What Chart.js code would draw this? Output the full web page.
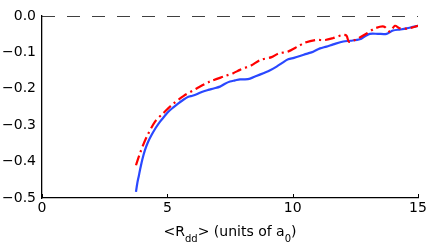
<!DOCTYPE html>
<html>
<head>
<meta charset="utf-8">
<script src="https://cdn.jsdelivr.net/npm/chart.js@4/dist/chart.umd.min.js"></script>
<style>
  body{margin:0;background:#fff;}
  #wrap{position:relative;width:436px;height:245px;overflow:hidden;}
  #xtitle{position:absolute;left:230px;top:223px;transform:translateX(-50%);
    font:14px "DejaVu Sans",sans-serif;color:#000;white-space:nowrap;}
  #xtitle sub{font-size:10px;vertical-align:-6px;line-height:0;}
</style>
</head>
<body>
<div id="wrap">
  <canvas id="mychart" width="436" height="245"></canvas>
  <div id="xtitle">&lt;R<sub>dd</sub>&gt; (units of a<sub>0</sub>)</div>
</div>
<script>
// blue solid curve
var blueX=[3.75,3.8,3.86,3.91,4.0,4.11,4.23,4.37,4.54,4.71,4.88,5.04,5.24,5.44,5.64,5.84,6.0,6.17,6.4,6.63,6.85,7.1,7.3,7.5,7.7,7.9,8.1,8.3,8.55,8.83,9.1,9.36,9.6,9.82,10.05,10.29,10.55,10.82,11.09,11.35,11.62,12.02,12.3,12.68,12.9,13.08,13.4,13.75,14.0,14.3,14.55,14.8,15.0]
var blueY=[-0.483,-0.46,-0.44,-0.423,-0.395,-0.368,-0.346,-0.327,-0.307,-0.290,-0.276,-0.263,-0.251,-0.240,-0.230,-0.222,-0.219,-0.215,-0.208,-0.203,-0.199,-0.194,-0.186,-0.180,-0.177,-0.174,-0.174,-0.172,-0.165,-0.157,-0.149,-0.139,-0.128,-0.119,-0.115,-0.110,-0.104,-0.098,-0.089,-0.084,-0.078,-0.070,-0.068,-0.064,-0.055,-0.049,-0.049,-0.049,-0.040,-0.037,-0.034,-0.030,-0.027]
// red dash-dot curve
var redX=[3.75,3.91,4.15,4.51,4.84,5.17,5.64,6.17,6.7,7.3,7.63,7.9,8.36,8.7,9.16,9.43,9.8,10.2,10.49,10.9,11.3,11.6,12.0,12.15,12.25,12.62,12.95,13.28,13.64,13.88,14.08,14.28,14.61,15.0]
var redY=[-0.410,-0.377,-0.336,-0.290,-0.267,-0.245,-0.220,-0.199,-0.180,-0.165,-0.157,-0.148,-0.135,-0.121,-0.113,-0.103,-0.098,-0.084,-0.073,-0.066,-0.066,-0.061,-0.052,-0.054,-0.071,-0.061,-0.048,-0.034,-0.029,-0.043,-0.027,-0.034,-0.034,-0.027]
// zero reference line
var zeroX=[0,15]
var zeroY=[0,0]
var xTicks=[0,5,10,15]
var yTicks=[0,-0.1,-0.2,-0.3,-0.4,-0.5]

function pts(xs,ys){
    var out=[]
    for(var i=0;i<xs.length;i++) out.push({x:xs[i],y:ys[i]})
    return out
}

var FONT={family:'"DejaVu Sans", sans-serif',size:14}

// small inward ticks on the x axis
var inTicks={
    id:'inTicks',
    afterDraw:function(chart){
        var c=chart.ctx, xs=chart.scales.x, b=chart.chartArea.bottom
        c.save()
        c.strokeStyle='#000'
        c.lineWidth=1
        xTicks.forEach(function(v){
            var px=Math.round(xs.getPixelForValue(v))+0.5
            c.beginPath(); c.moveTo(px,b); c.lineTo(px,b-4); c.stroke()
        })
        c.restore()
    }
}

var ctx=document.getElementById("mychart").getContext("2d")
var chart=new Chart(ctx,{
    type:"scatter",
    data:{
        datasets:[{
            data:pts(zeroX,zeroY),
            showLine:true,
            borderColor:"#000",
            borderWidth:1.5,
            borderDash:[13,12],
            pointRadius:0
        },{
            data:pts(redX,redY),
            showLine:true,
            borderColor:"#ff0000",
            borderWidth:2.2,
            borderDash:[10,4,2,4],
            pointRadius:0,
            tension:0.3
        },{
            data:pts(blueX,blueY),
            showLine:true,
            borderColor:"#2a48ff",
            borderWidth:2.2,
            pointRadius:0,
            tension:0.3
        }]
    },
    options:{
        responsive:false,
        animation:false,
        events:[],
        layout:{padding:{left:0,right:18,top:16,bottom:0}},
        plugins:{legend:{display:false},tooltip:{enabled:false}},
        scales:{
            x:{
                type:"linear",min:0,max:15,
                afterBuildTicks:function(s){s.ticks=xTicks.map(function(v){return {value:v}})},
                ticks:{color:"#000",font:FONT,padding:2,maxRotation:0},
                grid:{display:false,drawTicks:false,tickLength:0},
                border:{display:true,color:"#000",width:1.3},
                afterFit:function(s){s.height=47}
            },
            y:{
                type:"linear",min:-0.5,max:0,
                afterBuildTicks:function(s){s.ticks=yTicks.map(function(v){return {value:v}})},
                ticks:{color:"#000",font:FONT,padding:6,
                    callback:function(v){var t=Math.abs(v).toFixed(1);return v<-1e-9?"\u2212"+t:t}},
                grid:{display:false,drawTicks:false,tickLength:0},
                border:{display:true,color:"#000",width:1.3},
                afterFit:function(s){s.width=42}
            }
        }
    },
    plugins:[inTicks]
})
</script>
</body>
</html>
